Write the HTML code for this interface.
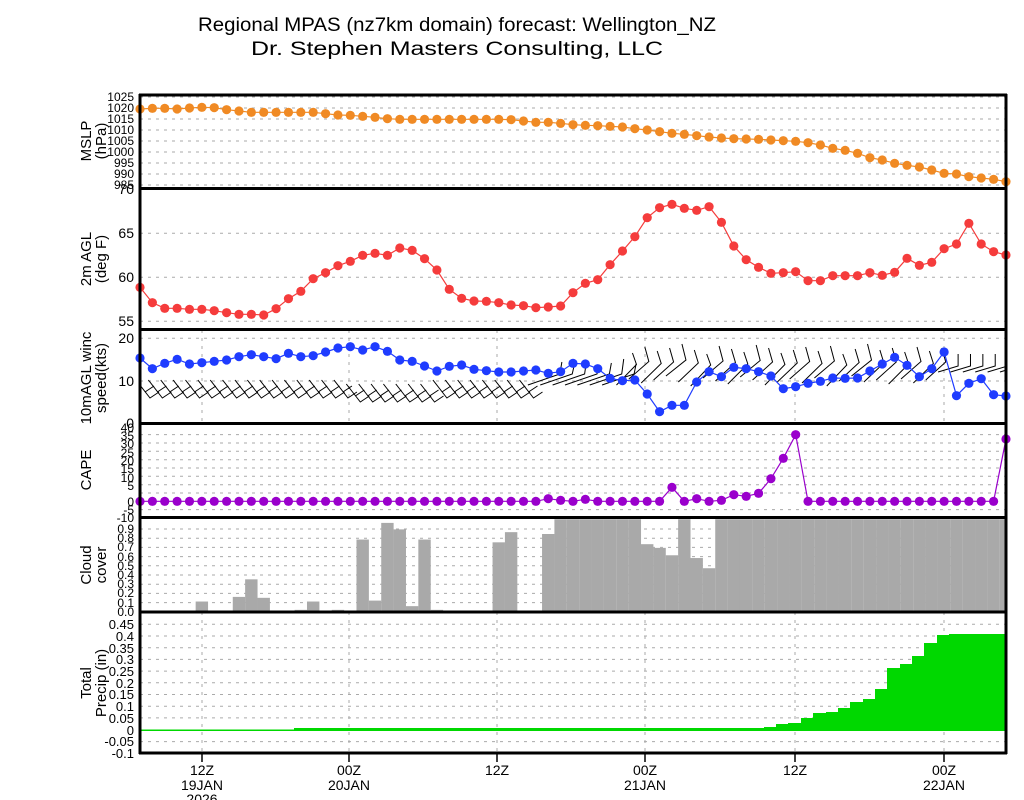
<!DOCTYPE html>
<html><head><meta charset="utf-8"><style>
html,body{margin:0;padding:0;background:#fff;}
svg{display:block;font-family:"Liberation Sans",sans-serif;}
</style></head><body>
<svg id="s" width="1024" height="800" viewBox="0 0 1024 800" xmlns="http://www.w3.org/2000/svg">
<rect width="1024" height="800" fill="#fff"/>
<defs><clipPath id="pc"><rect x="140" y="330" width="866" height="94"/></clipPath></defs>
<text x="457" y="31" font-size="19" text-anchor="middle" textLength="518" lengthAdjust="spacingAndGlyphs">Regional MPAS (nz7km domain) forecast: Wellington_NZ</text>
<text x="457" y="55" font-size="19" text-anchor="middle" textLength="412" lengthAdjust="spacingAndGlyphs">Dr. Stephen Masters Consulting, LLC</text>
<g id="grid"></g>
<g id="data"></g>
<g font-size="15" text-anchor="middle">
<text transform="translate(91,141) rotate(-90)">MSLP</text>
<text transform="translate(106,141) rotate(-90)">(hPa)</text>
<text transform="translate(91,259) rotate(-90)">2m AGL</text>
<text transform="translate(106,259) rotate(-90)">(deg F)</text>
<text transform="translate(91,378) rotate(-90)">10mAGL winc</text>
<text transform="translate(106,378) rotate(-90)">speed(kts)</text>
<text transform="translate(91,470) rotate(-90)">CAPE</text>
<text transform="translate(91,565) rotate(-90)">Cloud</text>
<text transform="translate(106,565) rotate(-90)">cover</text>
<text transform="translate(91,683) rotate(-90)">Total</text>
<text transform="translate(106,683) rotate(-90)">Precip (in)</text>
</g>
<g font-size="12" text-anchor="end" id="ticks">
<text x="134" y="101">1025</text><text x="134" y="112">1020</text><text x="134" y="123">1015</text><text x="134" y="134">1010</text><text x="134" y="145">1005</text><text x="134" y="156">1000</text><text x="134" y="167">995</text><text x="134" y="178">990</text><text x="134" y="189">985</text>
<text x="134" y="194" font-size="14">70</text><text x="134" y="238" font-size="14">65</text><text x="134" y="282" font-size="14">60</text><text x="134" y="326" font-size="14">55</text>
<text x="134" y="343" font-size="14">20</text><text x="134" y="386" font-size="14">10</text><text x="134" y="428" font-size="14">0</text>
<text x="134" y="432">40</text><text x="134" y="440">35</text><text x="134" y="448">30</text><text x="134" y="457">25</text><text x="134" y="465">20</text><text x="134" y="473">15</text><text x="134" y="482">10</text><text x="134" y="490">5</text><text x="134" y="506">0</text><text x="134" y="514">-5</text><text x="134" y="522">-10</text>
<text x="134" y="533">0.9</text><text x="134" y="542">0.8</text><text x="134" y="551">0.7</text><text x="134" y="561">0.6</text><text x="134" y="570">0.5</text><text x="134" y="579">0.4</text><text x="134" y="588">0.3</text><text x="134" y="597">0.2</text><text x="134" y="607">0.1</text><text x="134" y="616">0.0</text>
<text x="134" y="629" font-size="13">0.45</text><text x="134" y="641" font-size="13">0.4</text><text x="134" y="653" font-size="13">0.35</text><text x="134" y="664" font-size="13">0.3</text><text x="134" y="676" font-size="13">0.25</text><text x="134" y="688" font-size="13">0.2</text><text x="134" y="699" font-size="13">0.15</text><text x="134" y="711" font-size="13">0.1</text><text x="134" y="723" font-size="13">0.05</text><text x="134" y="735" font-size="13">0</text><text x="134" y="746" font-size="13">-0.05</text><text x="134" y="758" font-size="13">-0.1</text>
</g>
<g font-size="14" text-anchor="middle">
<text x="202" y="775">12Z</text><text x="202" y="790">19JAN</text><text x="202" y="804">2026</text>
<text x="349" y="775">00Z</text><text x="349" y="790">20JAN</text>
<text x="497" y="775">12Z</text>
<text x="645" y="775">00Z</text><text x="645" y="790">21JAN</text>
<text x="795" y="775">12Z</text>
<text x="944" y="775">00Z</text><text x="944" y="790">22JAN</text>
</g>
<g id="frame"></g>
</svg>
<script>
const NS="http://www.w3.org/2000/svg";
function el(p,t,a){const e=document.createElementNS(NS,t);for(const k in a)e.setAttribute(k,a[k]);p.appendChild(e);return e;}
const G=document.getElementById('grid'),D=document.getElementById('data'),F=document.getElementById('frame');
const X=i=>140+i*12.371;
const L=140,R=1006;
const hg=[[97,108,119,130,141,152,163,174,185],[233.3,277.3,321.3],[338.3,381],[434.6,443,451.3,459.7,468,476.3,484.7,493,509.6],[529,538.2,547.4,556.6,565.8,575,584.2,593.4,602.6],[624.3,636,647.7,659.4,671.1,682.8,694.5,706.2,717.9,741.6]];
hg.flat().forEach(y=>el(G,'line',{x1:L,x2:R,y1:y,y2:y,stroke:'#aaa','stroke-width':1,'stroke-dasharray':'3,5'}));
const vx=[202,349,497,645,795,944];
vx.forEach(x=>{[[330,424],[612,753]].forEach(r=>el(G,'line',{x1:x,x2:x,y1:r[0],y2:r[1],stroke:'#aaa','stroke-width':1,'stroke-dasharray':'3,5'}));});
function series(ys,col){let d='';ys.forEach((y,i)=>{d+=(i?'L':'M')+X(i).toFixed(1)+' '+y.toFixed(1);});el(D,'path',{d:d,fill:'none',stroke:col,'stroke-width':1.2});ys.forEach((y,i)=>el(D,'circle',{cx:X(i),cy:y,r:4.6,fill:col}));}
const z=v=>90+v/3;
const mslp=[57,55,55,57,54,52,53,59,63,67,67,67,67,67,67,71,75,76,79,82,86,88,88,88,88,88,88,88,88,88,89,93,97,97,100,104,106,107,109,111,116,120,125,130,133,137,141,144,146,147,148,150,152,154,158,165,175,181,190,203,210,220,226,231,240,250,252,260,264,268,275].map(z);
const temp=[592,638,655,655,658,658,662,668,673,673,675,656,626,604,566,548,527,514,496,490,496,474,481,506,540,598,625,633,634,638,645,647,653,651,648,608,580,569,524,483,440,383,353,343,355,361,350,397,468,509,532,550,548,545,572,572,557,557,557,548,556,547,505,526,517,476,462,400,462,485,495].map(z);
const wind=[804,836,820,808,822,818,814,810,800,794,800,806,790,800,797,786,774,770,780,770,784,810,814,828,843,829,825,838,842,846,846,843,840,850,845,820,822,836,865,872,870,912,965,946,946,876,845,860,832,836,845,858,896,890,880,874,864,865,864,843,822,802,826,860,836,786,917,880,866,914,918].map(z);
const capeZ=[];for(let i=0;i<32;i++)capeZ.push(244);
capeZ.push(244,236,241,244,238,244,244,244,244,244,244,202,244,236,244,241,224,229,220,176,115,44);
while(capeZ.length<70)capeZ.push(244);capeZ.push(57);
const cape=capeZ.map(v=>420+v/3);
const cl={5:.11,8:.16,9:.35,10:.15,13:.02,14:.11,16:.02,18:.78,19:.12,20:.96,21:.89,22:.06,23:.78,24:.02,29:.75,30:.86,33:.84,41:.73,42:.69,43:.61,45:.58,46:.47};
for(let i=34;i<=70;i++){if(!(i in cl))cl[i]=1;}
for(const k in cl){const i=+k;let x0=Math.max(L,X(i)-6.2),x1=Math.min(R+1,X(i)+6.2);const h=cl[k]*92.5;el(D,'rect',{x:x0,y:611.7-h,width:x1-x0,height:h,fill:'#a9a9a9'});}
const st=[[140,294,729.5],[294,764,728],[764,776,727],[776,788,724],[788,801,723],[801,813,718],[813,826,713],[826,838,712],[838,850,708],[850,863,702],[863,875,699],[875,887,689],[887,900,668],[900,912,664],[912,924,656],[924,937,643],[937,949,635],[949,1007,634]];
let pd='M140 731';st.forEach(s=>{pd+=' L'+s[0]+' '+s[2]+' L'+s[1]+' '+s[2];});pd+=' L1007 731 Z';
el(D,'path',{d:pd,fill:'#00d800'});
const bg=el(D,'g',{stroke:'#000','stroke-width':1,fill:'none','clip-path':'url(#pc)'});
const jit=[0,3,-2,4,1,-3,2,5,-1,3,0,-4,2,6,-2,1,4,-3,0,5,2,-1,3,-2,6,1,-4,2,0,4,-1,3];
for(let i=0;i<=70;i++){const x=X(i);const j=jit[i%jit.length];
 if(i<=31){const b=380+(i>16&&i<24?4:0);el(bg,'path',{d:`M${x-4} ${b} L${x+10} ${b+18} L${x+19} ${b+12} M${x+5} ${b+12} L${x+14} ${b+6}`});}
 else if(i<=38){el(bg,'path',{d:`M${x-8} 385 L${x+24} 374 L${x+26} ${362+j}`});}
 else if(i<=64){el(bg,'path',{d:`M${x-6} ${380+j} L${x+14} ${362+j/2} L${x+10} ${348+j}`});}
 else {el(bg,'path',{d:`M${x-6} 372 L${x+14} 366 L${x+14} 354`});}
}
series(mslp,'#f08a24');series(temp,'#f53c3c');series(wind,'#1f3cff');series(cape,'#9a00cc');
[95,188.5,329.5,423.5,517.5,612,753].forEach(y=>el(F,'line',{x1:L-1,x2:R+1,y1:y,y2:y,stroke:'#000','stroke-width':3}));
el(F,'line',{x1:L,x2:L,y1:94,y2:754,stroke:'#000','stroke-width':3});
el(F,'line',{x1:R,x2:R,y1:94,y2:754,stroke:'#000','stroke-width':3});
vx.forEach(x=>el(F,'line',{x1:x,x2:x,y1:754,y2:762,stroke:'#000','stroke-width':1.5}));
</script>
</body></html>
